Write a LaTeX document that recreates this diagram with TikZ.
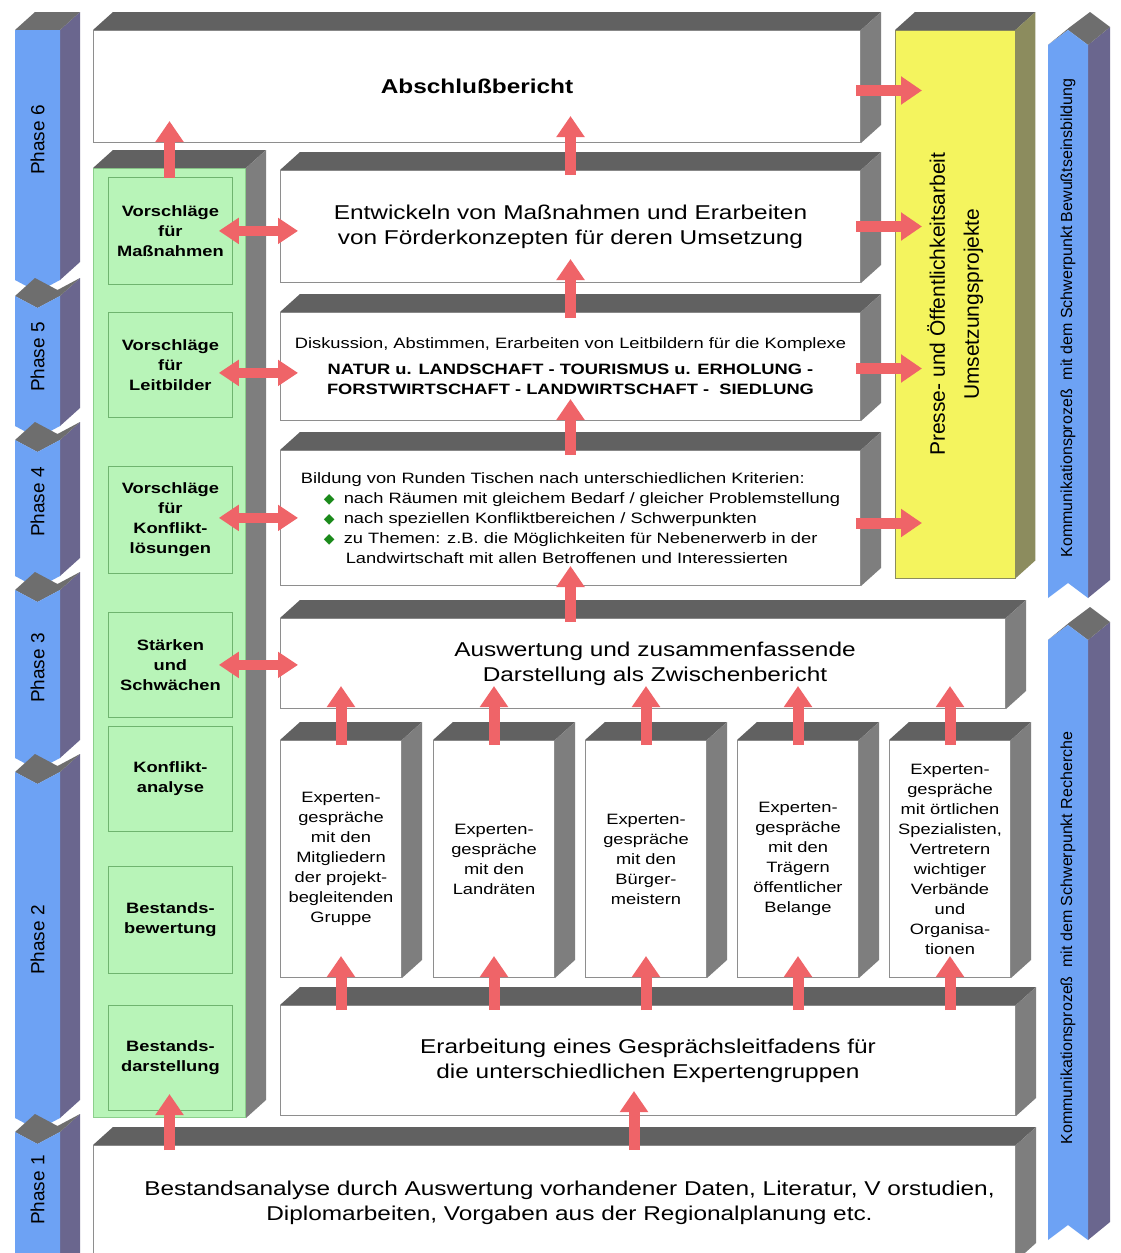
\documentclass[tikz,border=0pt]{standalone}
\usepackage{fontspec}
\setmainfont{Liberation Sans}[FakeStretch=1.22]
\newfontfamily\rotfont{Liberation Sans}
\newfontfamily\symfont{DejaVu Sans}
\usetikzlibrary{arrows.meta,calc,positioning}

\definecolor{edgegray}{HTML}{8E8E8E}
\definecolor{topgray}{HTML}{616161}
\definecolor{sidegray}{HTML}{7E7E7E}
\definecolor{lightgreen}{HTML}{B8F4B8}
\definecolor{greenedge}{HTML}{8CCF8C}
\definecolor{innergreen}{HTML}{6FB46F}
\definecolor{presseyellow}{HTML}{F4F45E}
\definecolor{olive}{HTML}{8C8C5E}
\definecolor{stripblue}{HTML}{6DA2F4}
\definecolor{stripside}{HTML}{6A668E}
\definecolor{striptop}{HTML}{6E6E6E}
\definecolor{arrowred}{HTML}{EF6468}
\definecolor{bulgreen}{HTML}{1B8A1B}

\newcommand{\bigtxt}{\fontsize{20}{25}\selectfont}
\newcommand{\bigbold}{\fontsize{20}{25}\selectfont\bfseries}
\newcommand{\midtxt}{\fontsize{15}{20}\selectfont}
\newcommand{\midbold}{\fontsize{15}{20}\selectfont\bfseries}
\newcommand{\bul}{\makebox[20pt][l]{\symfont\fontsize{14}{14}\selectfont\color{bulgreen}◆}}

% Ober- und Seitenflaeche eines Kastens
\newcommand{\solid}[3]{%
  \fill[#2] (#1.north west) -- ++(20,-18) -- ($(#1.north east)+(20,-18)$) -- (#1.north east) -- cycle;
  \fill[#3] (#1.north east) -- ++(20,-18) -- ($(#1.south east)+(20,-18)$) -- (#1.south east) -- cycle;}

% Phasen-Segment links (nach unten)
\newcommand{\phaseseg}[2]{%
  \fill[stripside] (60,#1) -- (80,#1-18) -- (80,#2-18) -- (60,#2) -- cycle;
  \fill[striptop] (15,#1) -- (35,#1-18) -- (57.5,#1-6) -- (80,#1-18) -- (60,#1) -- (37.5,#1+12) -- cycle;
  \fill[stripblue] (15,#1) -- (37.5,#1+12) -- (60,#1) -- (60,#2) -- (37.5,#2+12) -- (15,#2) -- cycle;}

% Segment rechts (nach oben)
\newcommand{\kommseg}[2]{%
  \fill[stripside] (1088,#1) -- (1110,#1-18) -- (1110,#2-18) -- (1088,#2) -- cycle;
  \fill[striptop] (1048,#1) -- (1070,#1-18) -- (1090,#1-33) -- (1110,#1-18) -- (1088,#1) -- (1068,#1-15) -- cycle;
  \fill[stripblue] (1048,#1) -- (1068,#1-15) -- (1088,#1) -- (1088,#2) -- (1068,#2-15) -- (1048,#2) -- cycle;}

\begin{document}
\begin{tikzpicture}[x=1pt, y=-1pt]
    % Stile
    \tikzstyle{front}=[draw=edgegray, fill=white, line width=1pt, anchor=north west, inner sep=0pt, align=center]
    \tikzstyle{inner}=[draw=innergreen, fill=lightgreen, line width=0.8pt, anchor=north west, inner sep=0pt, align=center, minimum width=124pt, font=\midbold]
    \tikzstyle{flow}=[draw=arrowred, line width=11pt, -{Triangle[length=21pt,width=27pt]}]
    \tikzstyle{flowboth}=[draw=arrowred, line width=10pt, {Triangle[length=20pt,width=25pt]}-{Triangle[length=20pt,width=25pt]}]
    \tikzstyle{phase}=[rotate=90, font=\rotfont\fontsize{19}{19}\selectfont]
    \tikzstyle{komm}=[rotate=90, font=\rotfont\fontsize{16}{16}\selectfont]

    \useasboundingbox (0,0) rectangle (1120,1253);
    \fill[white] (0,0) rectangle (1120,1253);

    % Phasen links
    \fill[stripside] (60,30) -- (80,12) -- (80,262) -- (60,280) -- cycle;
    \fill[striptop] (15,30) -- (35,12) -- (80,12) -- (60,30) -- cycle;
    \fill[stripblue] (15,30) -- (60,30) -- (60,280) -- (37.5,292) -- (15,280) -- cycle;
    \phaseseg{296}{426}
    \phaseseg{440}{576}
    \phaseseg{590}{758}
    \phaseseg{772}{1118}
    \phaseseg{1132}{1275}
    \node[phase] (ph6) at (37.5,140) {Phase 6};
    \node[phase] (ph5) at (37.5,357) {Phase 5};
    \node[phase] (ph4) at (37.5,502) {Phase 4};
    \node[phase] (ph3) at (37.5,668) {Phase 3};
    \node[phase] (ph2) at (37.5,940) {Phase 2};
    \node[phase] (ph1) at (37.5,1190) {Phase 1};

    % Kommunikationsprozess rechts
    \kommseg{45}{598}
    \kommseg{640}{1240}
    \node[komm] (k1) at (1068,318) {Kommunikationsproze{\ss}\ \ mit dem Schwerpunkt Bewu{\ss}tseinsbildung};
    \node[komm] (k2) at (1068,938) {Kommunikationsproze{\ss}\ \ mit dem Schwerpunkt Recherche};

    % Abschlussbericht
    \node[front, minimum width=767pt, minimum height=112pt, font=\bigbold] (absch) at (93,30) {Abschlußbericht};
    \solid{absch}{topgray}{sidegray}

    % Gruene Saeule
    \node[draw=greenedge, fill=lightgreen, line width=1pt, anchor=north west, minimum width=152pt, minimum height=949pt] (green) at (93,168) {};
    \solid{green}{topgray}{sidegray}
    \node[inner, minimum height=107pt] (vmass) at (108,177) {Vorschläge\\für\\Maßnahmen};
    \node[inner, minimum height=105pt] (vleit) at (108,312) {Vorschläge\\für\\Leitbilder};
    \node[inner, minimum height=107pt] (vkonf) at (108,466) {Vorschläge\\für\\Konflikt-\\lösungen};
    \node[inner, minimum height=105pt] (staerk) at (108,612) {Stärken\\und\\Schwächen};
    \node[inner, minimum height=105pt] (konfl) at (108,726) {Konflikt-\\analyse};
    \node[inner, minimum height=107pt] (bbew) at (108,866) {Bestands-\\bewertung};
    \node[inner, minimum height=105pt] (bdar) at (108,1005) {Bestands-\\darstellung};

    % Presse
    \node[draw=olive, fill=presseyellow, anchor=north west, minimum width=120pt, minimum height=548pt] (presse) at (895,30) {};
    \solid{presse}{topgray}{olive}
    \node[rotate=90, align=center, font=\rotfont\fontsize{21}{34}\selectfont] (pressetxt) at (presse.center) {Presse- und Öffentlichkeitsarbeit\\Umsetzungsprojekte};

    % Mittlere Kaesten
    \node[front, minimum width=580pt, minimum height=112pt, font=\bigtxt] (entw) at (280,170) {Entwickeln von Maßnahmen und Erarbeiten\\von Förderkonzepten für deren Umsetzung};
    \solid{entw}{topgray}{sidegray}
    \node[front, minimum width=580pt, minimum height=108pt, font=\midtxt] (disk) at (280,312) {Diskussion, Abstimmen, Erarbeiten von Leitbildern für die Komplexe\\[6pt]
      \fontsize{15}{18}\selectfont\bfseries NATUR u. LANDSCHAFT - TOURISMUS u. ERHOLUNG -\\\fontsize{15}{18}\selectfont\bfseries FORSTWIRTSCHAFT - LANDWIRTSCHAFT -\ \ SIEDLUNG};
    \solid{disk}{topgray}{sidegray}
    \node[front, align=left, minimum width=580pt, minimum height=135pt, font=\midtxt] (bild) at (280,450) {Bildung von Runden Tischen nach unterschiedlichen Kriterien:\\
      \hspace*{23pt}\bul nach Räumen mit gleichem Bedarf / gleicher Problemstellung\\
      \hspace*{23pt}\bul nach speziellen Konfliktbereichen / Schwerpunkten\\
      \hspace*{23pt}\bul zu Themen: z.B. die Möglichkeiten für Nebenerwerb in der\\
      \hspace*{45pt}Landwirtschaft mit allen Betroffenen und Interessierten};
    \solid{bild}{topgray}{sidegray}
    \node[front, minimum width=725pt, minimum height=90pt, font=\bigtxt] (ausw) at (280,618) {\hspace*{24pt}Auswertung und zusammenfassende\\\hspace*{24pt}Darstellung als Zwischenbericht};
    \solid{ausw}{topgray}{sidegray}

    % Expertengespraeche
    \node[front, minimum width=121pt, minimum height=237pt, font=\midtxt] (exp1) at (280,740) {Experten-\\gespräche\\mit den\\Mitgliedern\\der projekt-\\begleitenden\\Gruppe};
    \node[front, minimum width=121pt, minimum height=237pt, font=\midtxt] (exp2) at (433,740) {Experten-\\gespräche\\mit den\\Landräten};
    \node[front, minimum width=121pt, minimum height=237pt, font=\midtxt] (exp3) at (585,740) {Experten-\\gespräche\\mit den\\Bürger-\\meistern};
    \node[front, minimum width=121pt, minimum height=237pt, font=\midtxt] (exp4) at (737,740) {Experten-\\gespräche\\mit den\\Trägern\\öffentlicher\\Belange};
    \node[front, minimum width=121pt, minimum height=237pt, font=\midtxt] (exp5) at (889,740) {Experten-\\gespräche\\mit örtlichen\\Spezialisten,\\Vertretern\\wichtiger\\Verbände\\und\\Organisa-\\tionen};
    \solid{exp1}{topgray}{sidegray}
    \solid{exp2}{topgray}{sidegray}
    \solid{exp3}{topgray}{sidegray}
    \solid{exp4}{topgray}{sidegray}
    \solid{exp5}{topgray}{sidegray}

    % Gespraechsleitfaden und Bestandsanalyse
    \node[front, minimum width=735pt, minimum height=110pt, font=\bigtxt] (erarb) at (280,1005) {Erarbeitung eines Gesprächsleitfadens für\\die unterschiedlichen Expertengruppen};
    \solid{erarb}{topgray}{sidegray}
    \node[front, minimum width=922pt, minimum height=115pt, font=\bigtxt] (bestand) at (93,1145) {\hspace*{30pt}Bestandsanalyse durch Auswertung vorhandener Daten, Literatur, V orstudien,\\\hspace*{30pt}Diplomarbeiten, Vorgaben aus der Regionalplanung etc.};
    \solid{bestand}{topgray}{sidegray}

    % Pfeile nach oben
    \draw[flow] ($(green.north)+(0,10)$) -- ($(green.north |- absch.south)+(0,-22)$);
    \draw[flow] ($(entw.north)+(0,5)$) -- ($(absch.south -| entw.north)+(0,-27)$);
    \draw[flow] ($(disk.north)+(0,6)$) -- ($(entw.south)+(0,-24)$);
    \draw[flow] ($(bild.north)+(0,5)$) -- ($(disk.south)+(0,-22)$);
    \draw[flow] ($(ausw.north -| bild.south)+(0,4)$) -- ($(bild.south)+(0,-20)$);
    \draw[flow] ($(exp1.north)+(0,5)$) -- ($(ausw.south -| exp1.north)+(0,-23)$);
    \draw[flow] ($(exp2.north)+(0,5)$) -- ($(ausw.south -| exp2.north)+(0,-23)$);
    \draw[flow] ($(exp3.north)+(0,5)$) -- ($(ausw.south -| exp3.north)+(0,-23)$);
    \draw[flow] ($(exp4.north)+(0,5)$) -- ($(ausw.south -| exp4.north)+(0,-23)$);
    \draw[flow] ($(exp5.north)+(0,5)$) -- ($(ausw.south -| exp5.north)+(0,-23)$);
    \draw[flow] ($(erarb.north -| exp1.south)+(0,5)$) -- ($(exp1.south)+(0,-22)$);
    \draw[flow] ($(erarb.north -| exp2.south)+(0,5)$) -- ($(exp2.south)+(0,-22)$);
    \draw[flow] ($(erarb.north -| exp3.south)+(0,5)$) -- ($(exp3.south)+(0,-22)$);
    \draw[flow] ($(erarb.north -| exp4.south)+(0,5)$) -- ($(exp4.south)+(0,-22)$);
    \draw[flow] ($(erarb.north -| exp5.south)+(0,5)$) -- ($(exp5.south)+(0,-22)$);
    \draw[flow] ($(bestand.north -| erarb.south)+(-14,5)$) -- ($(erarb.south)+(-14,-25)$);
    \draw[flow] ($(bestand.north -| green.south)+(0,5)$) -- ($(green.south)+(0,-24)$);

    % Doppelpfeile zur gruenen Saeule
    \draw[flowboth] ($(vmass.east)+(-14,0)$) -- ($(vmass.east -| entw.west)+(18,0)$);
    \draw[flowboth] ($(vleit.east)+(-14,8)$) -- ($(vleit.east -| disk.west)+(18,8)$);
    \draw[flowboth] ($(vkonf.east)+(-14,-2)$) -- ($(vkonf.east -| bild.west)+(18,-2)$);
    \draw[flowboth] ($(staerk.east)+(-14,0)$) -- ($(staerk.east -| ausw.west)+(18,0)$);

    % Pfeile zur Presse
    \draw[flow] ($(absch.east)+(-5,4)$) -- ($(absch.east -| presse.west)+(27,4)$);
    \draw[flow] ($(entw.east)+(-5,0)$) -- ($(entw.east -| presse.west)+(27,0)$);
    \draw[flow] ($(disk.east)+(-5,2)$) -- ($(disk.east -| presse.west)+(27,2)$);
    \draw[flow] ($(bild.east)+(-5,5)$) -- ($(bild.east -| presse.west)+(27,5)$);
\end{tikzpicture}
\end{document}
